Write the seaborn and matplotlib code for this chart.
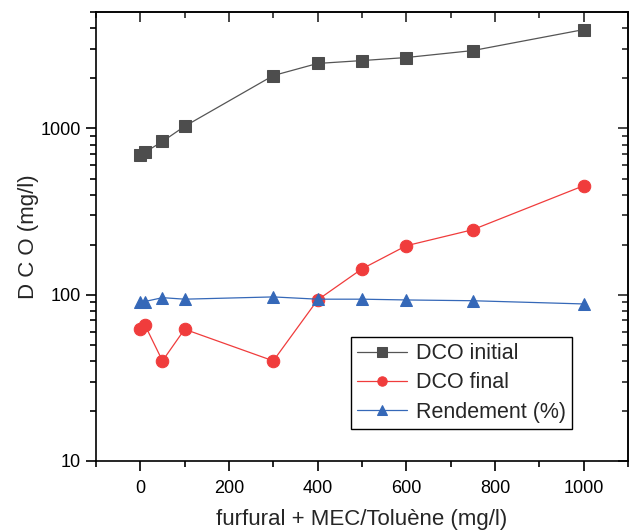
import numpy as np
import pandas as pd
import seaborn as sns
from matplotlib import pyplot as plt
from matplotlib.ticker import FixedLocator, LogLocator, NullFormatter, MultipleLocator

conc = [0, 10, 50, 100, 300, 400, 500, 600, 750, 1000]
dco_initial = [690, 718, 835, 1030, 2080, 2460, 2560, 2670, 2940, 3930]
dco_final = [62, 66, 40, 62, 40, 93, 143, 197, 246, 452]
rendement = [91, 91, 96, 94, 97, 94, 94, 93, 92, 88]

sns.set_style("ticks")
plt.rcParams['font.family'] = ['Liberation Sans', 'DejaVu Sans']

fig = plt.figure(figsize=(6.4, 5.32), dpi=100)
ax = fig.add_axes([0.15, 0.1335, 0.831, 0.8435])

series = [
    ("DCO initial", dco_initial, "s", "#4d4d4d", "#555555"),
    ("DCO final", dco_final, "o", "#f03c3c", "#f03c3c"),
    ("Rendement (%)", rendement, "^", "#3568b8", "#3568b8"),
]
for name, vals, mk, mc, lc in series:
    df = pd.DataFrame({"x": conc, "y": vals})
    sns.lineplot(data=df, x="x", y="y", ax=ax, label=name, color=lc,
                 linewidth=0.9, marker=mk, markersize=9,
                 markerfacecolor=mc, markeredgecolor=mc)

ax.set_yscale("log")
ax.set_xlim(-100, 1100)
ax.set_ylim(10, 5000)


def set_locators(a_x, a_y):
    if a_x is not None:
        a_x.set_major_locator(MultipleLocator(200))
        a_x.set_minor_locator(MultipleLocator(100))
    if a_y is not None:
        a_y.set_major_locator(FixedLocator([10, 100, 1000]))
        a_y.set_minor_locator(LogLocator(base=10, subs=np.arange(2, 10)))
        a_y.set_minor_formatter(NullFormatter())


set_locators(ax.xaxis, ax.yaxis)
ax.yaxis.set_major_formatter(plt.FuncFormatter(lambda v, p: f"{int(v)}"))

# left / bottom: ticks outward
ax.tick_params(which="both", direction="out", width=1.2, colors="black")
ax.tick_params(which="major", length=7, labelsize=13)
ax.tick_params(which="minor", length=4)
ax.tick_params(axis="x", which="major", pad=7)
ax.tick_params(axis="y", which="major", pad=4)

# top / right: ticks inward, no labels
top = ax.secondary_xaxis("top")
right = ax.secondary_yaxis("right")
set_locators(top.xaxis, None)
set_locators(None, right.yaxis)
for sec in (top, right):
    sec.tick_params(which="both", direction="in", width=1.2, labelsize=0)
    sec.tick_params(which="major", length=7)
    sec.tick_params(which="minor", length=4)
    for s in sec.spines.values():
        s.set_linewidth(1.2)
top.set_xticklabels([])
right.set_yticklabels([])
right.yaxis.set_major_formatter(NullFormatter())

for s in ax.spines.values():
    s.set_linewidth(1.2)
    s.set_color("black")

ax.set_xlabel("furfural + MEC/Toluène (mg/l)", fontsize=16, labelpad=8)
ax.set_ylabel("D C O (mg/l)", fontsize=16, labelpad=1)

leg = ax.legend(loc="lower right", bbox_to_anchor=(0.895, 0.071), borderaxespad=0,
                fontsize=15.5, frameon=True, fancybox=False, edgecolor="black",
                framealpha=1, borderpad=0.3, labelspacing=0.38, handlelength=2.3,
                handletextpad=0.4, markerscale=0.75)
leg.get_frame().set_linewidth(1.0)

fig.savefig("out.png", dpi=100)
